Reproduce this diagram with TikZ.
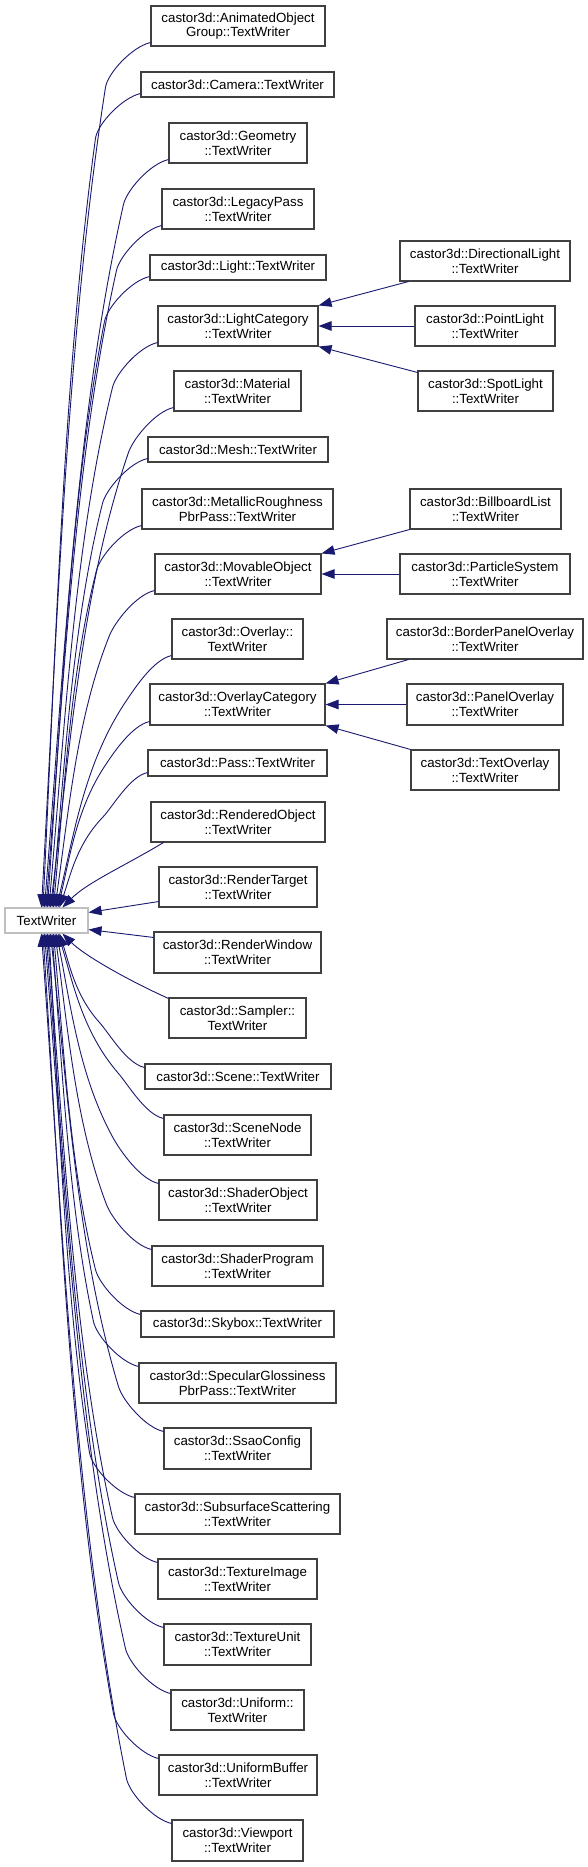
\documentclass[tikz,border=0pt]{standalone}
\usepackage{fontspec}
\setmainfont{Liberation Sans}
\usetikzlibrary{arrows.meta,calc}
\definecolor{edgeblue}{RGB}{25,25,112}
\definecolor{boxgray}{RGB}{64,64,64}
\definecolor{rootgray}{RGB}{191,191,191}
\tikzset{
  cls/.style={draw=boxgray, line width=1.1pt, fill=white, inner sep=0pt, align=center,
    font=\fontsize{13.3pt}{14.6pt}\selectfont},
  rootbox/.style={cls, draw=rootgray},
  edge/.style={draw=edgeblue, line width=0.9pt, -{Triangle[length=13pt,width=9.5pt]}},
}
\newcommand\upedge[2]{%
  \draw[edge] let \p1=([yshift=4pt]#1.south west), \p2=([xshift=#2]tw.north west),
    \p3=({\x1-45pt},{\y1-45pt}), \n1={\x2-\x3}, \n2={\y2-\y3}, \n3={veclen(2*(\n1),\n2)}
  in (\p1) .. controls ({\x1-18pt},{\y1-4pt}) and ({\x3-30*(\n1)/(\n3)}, {\y3-15*(\n2)/(\n3)}) .. (\p3)
     .. controls ({\x3+0.6*(\n1)}, {\y3+0.3*(\n2)}) and ({\x2-0.25*(\n1)}, {\y2-0.35*(\n2)}) .. (\p2);}
\newcommand\downedge[2]{%
  \draw[edge] let \p1=([yshift=-4pt]#1.north west), \p2=([xshift=#2]tw.south west),
    \p3=({\x1-45pt},{\y1+45pt}), \n1={\x2-\x3}, \n2={\y2-\y3}, \n3={veclen(2*(\n1),\n2)}
  in (\p1) .. controls ({\x1-18pt},{\y1+4pt}) and ({\x3-30*(\n1)/(\n3)}, {\y3-15*(\n2)/(\n3)}) .. (\p3)
     .. controls ({\x3+0.6*(\n1)}, {\y3+0.3*(\n2)}) and ({\x2-0.25*(\n1)}, {\y2-0.35*(\n2)}) .. (\p2);}
\begin{document}
\begin{tikzpicture}[x=1pt,y=-1pt]
\fill[white] (0,0) rectangle (588,1867);
\useasboundingbox (0,0) rectangle (588,1867);
% root
\node[rootbox, minimum width=83pt, minimum height=25pt] (tw) at (46.5,920.5) {TextWriter};
% left column
\node[cls, minimum width=174pt, minimum height=40pt] (aog) at (238,26) {castor3d::AnimatedObject\\Group::TextWriter};
\node[cls, minimum width=193pt, minimum height=25pt] (cam) at (237.5,84.5) {castor3d::Camera::TextWriter};
\node[cls, minimum width=138pt, minimum height=40pt] (geo) at (238,143) {castor3d::Geometry\\::TextWriter};
\node[cls, minimum width=152pt, minimum height=40pt] (leg) at (238,209) {castor3d::LegacyPass\\::TextWriter};
\node[cls, minimum width=176pt, minimum height=25pt] (light) at (238,267.5) {castor3d::Light::TextWriter};
\node[cls, minimum width=160pt, minimum height=40pt] (lc) at (238,326) {castor3d::LightCategory\\::TextWriter};
\node[cls, minimum width=127pt, minimum height=40pt] (mat) at (237.5,391) {castor3d::Material\\::TextWriter};
\node[cls, minimum width=180pt, minimum height=25pt] (mesh) at (238,449.5) {castor3d::Mesh::TextWriter};
\node[cls, minimum width=191pt, minimum height=40pt] (mr) at (237.5,509) {castor3d::MetallicRoughness\\PbrPass::TextWriter};
\node[cls, minimum width=166pt, minimum height=40pt] (mo) at (238,574) {castor3d::MovableObject\\::TextWriter};
\node[cls, minimum width=131pt, minimum height=40pt] (ov) at (237.5,639) {castor3d::Overlay::\\TextWriter};
\node[cls, minimum width=175pt, minimum height=41pt] (oc) at (237.5,704.5) {castor3d::OverlayCategory\\::TextWriter};
\node[cls, minimum width=179pt, minimum height=26pt] (pass) at (237.5,763) {castor3d::Pass::TextWriter};
\node[cls, minimum width=174pt, minimum height=40pt] (ro) at (238,822) {castor3d::RenderedObject\\::TextWriter};
\node[cls, minimum width=158pt, minimum height=40pt] (rt) at (238,887) {castor3d::RenderTarget\\::TextWriter};
\node[cls, minimum width=167pt, minimum height=41pt] (rw) at (237.5,952.5) {castor3d::RenderWindow\\::TextWriter};
\node[cls, minimum width=137pt, minimum height=40pt] (sam) at (237.5,1018) {castor3d::Sampler::\\TextWriter};
\node[cls, minimum width=186pt, minimum height=25pt] (scene) at (238,1076.5) {castor3d::Scene::TextWriter};
\node[cls, minimum width=147pt, minimum height=40pt] (sn) at (237.5,1135) {castor3d::SceneNode\\::TextWriter};
\node[cls, minimum width=158pt, minimum height=40pt] (so) at (238,1200) {castor3d::ShaderObject\\::TextWriter};
\node[cls, minimum width=171pt, minimum height=40pt] (sp) at (237.5,1266) {castor3d::ShaderProgram\\::TextWriter};
\node[cls, minimum width=193pt, minimum height=26pt] (sky) at (237.5,1324) {castor3d::Skybox::TextWriter};
\node[cls, minimum width=197pt, minimum height=40pt] (sg) at (237.5,1383) {castor3d::SpecularGlossiness\\PbrPass::TextWriter};
\node[cls, minimum width=147pt, minimum height=41pt] (ssao) at (237.5,1448.5) {castor3d::SsaoConfig\\::TextWriter};
\node[cls, minimum width=205pt, minimum height=40pt] (sss) at (237.5,1514) {castor3d::SubsurfaceScattering\\::TextWriter};
\node[cls, minimum width=159pt, minimum height=40pt] (ti) at (237.5,1579) {castor3d::TextureImage\\::TextWriter};
\node[cls, minimum width=147pt, minimum height=41pt] (tu) at (237.5,1644.5) {castor3d::TextureUnit\\::TextWriter};
\node[cls, minimum width=133pt, minimum height=40pt] (uni) at (237.5,1710) {castor3d::Uniform::\\TextWriter};
\node[cls, minimum width=158pt, minimum height=40pt] (ub) at (238,1775) {castor3d::UniformBuffer\\::TextWriter};
\node[cls, minimum width=131pt, minimum height=41pt] (vp) at (237.5,1840.5) {castor3d::Viewport\\::TextWriter};
% right column
\node[cls, minimum width=170pt, minimum height=40pt] (dl) at (485,261) {castor3d::DirectionalLight\\::TextWriter};
\node[cls, minimum width=140pt, minimum height=40pt] (pl) at (485,326) {castor3d::PointLight\\::TextWriter};
\node[cls, minimum width=135pt, minimum height=40pt] (sl) at (485.5,391) {castor3d::SpotLight\\::TextWriter};
\node[cls, minimum width=151pt, minimum height=40pt] (bl) at (485.5,509) {castor3d::BillboardList\\::TextWriter};
\node[cls, minimum width=170pt, minimum height=40pt] (ps) at (485,574) {castor3d::ParticleSystem\\::TextWriter};
\node[cls, minimum width=196pt, minimum height=40pt] (bpo) at (485,639) {castor3d::BorderPanelOverlay\\::TextWriter};
\node[cls, minimum width=156pt, minimum height=41pt] (po) at (485,704.5) {castor3d::PanelOverlay\\::TextWriter};
\node[cls, minimum width=148pt, minimum height=40pt] (tov) at (485,770) {castor3d::TextOverlay\\::TextWriter};
% right-column edges
\draw[edge] ([xshift=9pt]dl.south west) -- (lc.north east);
\draw[edge] (pl.west) -- (lc.east);
\draw[edge] ([yshift=-2pt]sl.north west) -- (lc.south east);
\draw[edge] (bl.south west) -- (mo.north east);
\draw[edge] (ps.west) -- (mo.east);
\draw[edge] ([xshift=22pt]bpo.south west) -- (oc.north east);
\draw[edge] (po.west) -- (oc.east);
\draw[edge] (tov.north west) -- (oc.south east);
% edges to the root, from above
\upedge{aog}{37pt}
\upedge{cam}{38.5pt}
\upedge{geo}{40pt}
\upedge{leg}{41.5pt}
\upedge{light}{43pt}
\upedge{lc}{44.5pt}
\upedge{mat}{46pt}
\upedge{mesh}{47.5pt}
\upedge{mr}{49pt}
\upedge{mo}{50.5pt}
\upedge{ov}{52pt}
\upedge{oc}{53.5pt}
\upedge{pass}{55pt}
\draw[edge] ([xshift=13pt]ro.south west) .. controls +(-40,24) and +(25,-25) .. ([xshift=58pt]tw.north west);
\draw[edge] ([yshift=6pt]rt.south west) -- ([yshift=-5pt]tw.north east);
\draw[edge] ([yshift=-6pt]rw.north west) -- ([yshift=4pt]tw.south east);
\draw[edge] ([yshift=-1pt]sam.north west) .. controls +(-40,-18) and +(22,22) .. ([xshift=58pt]tw.south west);
% edges to the root, from below
\downedge{scene}{55pt}
\downedge{sn}{53.5pt}
\downedge{so}{52pt}
\downedge{sp}{50.5pt}
\downedge{sky}{49pt}
\downedge{sg}{47.5pt}
\downedge{ssao}{46pt}
\downedge{sss}{44.5pt}
\downedge{ti}{43pt}
\downedge{tu}{41.5pt}
\downedge{uni}{40pt}
\downedge{ub}{38.5pt}
\downedge{vp}{37pt}
\end{tikzpicture}
\end{document}
